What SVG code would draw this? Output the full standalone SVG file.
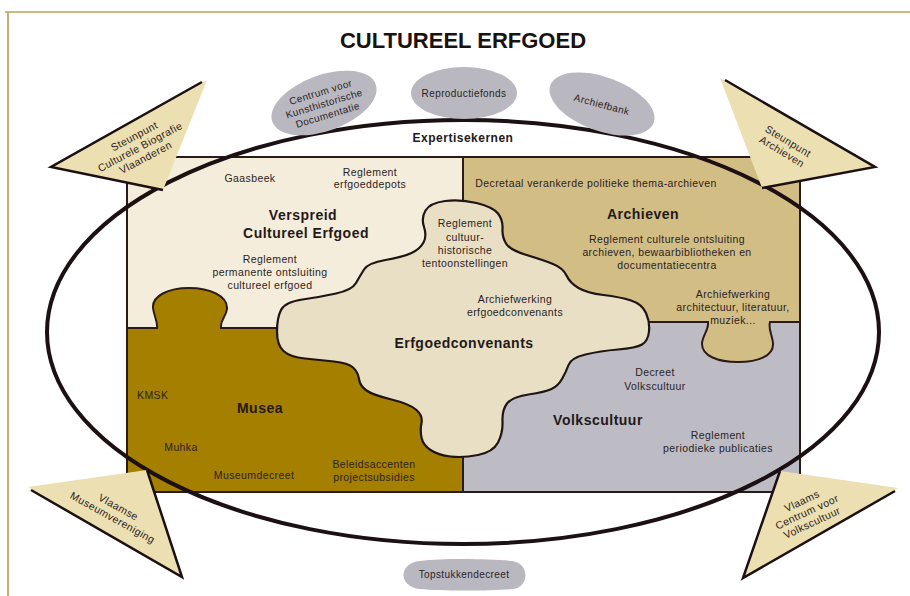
<svg xmlns="http://www.w3.org/2000/svg" width="910" height="596" viewBox="0 0 910 596">
<style>
.t{font-family:"Liberation Sans",Arial,sans-serif;font-size:10.5px;letter-spacing:0.4px;fill:#2b2222;text-anchor:middle}
.s{font-size:10px}
.b{font-weight:bold;font-size:14px;letter-spacing:0.5px;fill:#231919}
.tri{fill:#ecdfb1;stroke:none}
.triedge{fill:none;stroke:#1c1012;stroke-width:2.5;stroke-linejoin:miter}
.oval{fill:#b9b8c1;stroke:none}
.sep{fill:none;stroke:#2a1a1a;stroke-width:2}
</style>
<rect width="910" height="596" fill="#ffffff"/>
<g id="frame">
<path d="M5 12 H910 M8 12 V596" fill="none" stroke="#bfa456" stroke-width="1.7"/>
</g>
<text id="title" x="463" y="48" class="t" style="font-size:22px;font-weight:bold;letter-spacing:0;fill:#1a1111">CULTUREEL ERFGOED</text>

<g id="verspreid">
<rect x="127" y="157" width="336" height="171" fill="#f5eddb"/>
<text class="t" x="250" y="182">Gaasbeek</text>
<text class="t" x="370" y="176">Reglement</text>
<text class="t" x="370" y="188">erfgoeddepots</text>
<text class="t b" x="303" y="220">Verspreid</text>
<text class="t b" x="306" y="238">Cultureel Erfgoed</text>
<text class="t" x="270" y="263">Reglement</text>
<text class="t" x="270" y="276">permanente ontsluiting</text>
<text class="t" x="270" y="289">cultureel erfgoed</text>
</g>
<g id="archieven">
<rect x="463" y="157" width="337" height="165" fill="#d2bd85"/>
<path d="M708 322 C709 330 702 336 702 344 C702 356 718 362 738 362 C758 362 774 356 773 343 C772 334 768 329 770 322 Z" fill="#d2bd85"/>
</g>
<g id="musea">
<rect x="127" y="328" width="336" height="164" fill="#a57f00"/>
<path d="M157 328 C158 322 154 316 153 308 C152 296 168 288 189 288 C210 288 228 296 227 309 C226 317 220 320 221 328 Z" fill="#a57f00"/>
</g>
<g id="volkscultuur">
<rect x="463" y="322" width="337" height="170" fill="#bdbcc5"/>
<path d="M708 322 C709 330 702 336 702 344 C702 356 718 362 738 362 C758 362 774 356 773 343 C772 334 768 329 770 322 Z" fill="#d2bd85"/>
</g>
<g id="region-borders">
<path class="sep" d="M463 157 V492"/>
<path class="sep" d="M127 328 L157 328 C158 322 154 316 153 308 C152 296 168 288 189 288 C210 288 228 296 227 309 C226 317 220 320 221 328 L470 328"/>
<path class="sep" d="M455 322 L708 322 C709 330 702 336 702 344 C702 356 718 362 738 362 C758 362 774 356 773 343 C772 334 768 329 770 322 L800 322"/>
</g>
<g id="erfgoedconvenants">
<path d="M445 201 Q460 199 476.5 203 Q493 207 498 213.5 Q503 220 502.5 228.5 Q502 237 506 243.5 Q510 250 526.5 255 Q543 260 553 264 Q563 268 566.5 275.5 Q570 283 578.5 288 Q587 293 603.5 295 Q620 297 631 300.5 Q642 304 646 313 Q650 322 649 331.5 Q648 341 642 344.5 Q636 348 618 349.5 Q600 351 585.5 354.5 Q571 358 568.5 365 Q566 372 562 379 Q558 386 551.5 389 Q545 392 528.5 394.5 Q512 397 507 403.5 Q502 410 502.5 421.5 Q503 433 498 442.5 Q493 452 478 455 Q463 458 450.5 456.5 Q438 455 430.5 450 Q423 445 421.5 437.5 Q420 430 421.5 423 Q423 416 416.5 410 Q410 404 391.5 399.5 Q373 395 366.5 390.5 Q360 386 359 379 Q358 372 353 367.5 Q348 363 334 361.5 Q320 360 305 358.5 Q290 357 283.5 351 Q277 345 277 331.5 Q277 318 281 310 Q285 302 302.5 299.5 Q320 297 336 293.5 Q352 290 356 283 Q360 276 364 269.5 Q368 263 385.5 260 Q403 257 411.5 253 Q420 249 423.5 242.5 Q427 236 424 227 Q421 218 425.5 210.5 Q430 203 445 201 Z" fill="#e9dfc4" stroke="#1f1415" stroke-width="2.2"/>
<text class="t" x="465" y="227">Reglement</text>
<text class="t" x="465" y="241">cultuur-</text>
<text class="t" x="465" y="254">historische</text>
<text class="t" x="465" y="267">tentoonstellingen</text>
<text class="t" x="515" y="303">Archiefwerking</text>
<text class="t" x="515" y="316">erfgoedconvenants</text>
<text class="t b" x="464" y="348">Erfgoedconvenants</text>
</g>
<g id="labels">
<text class="t" x="596" y="187">Decretaal verankerde politieke thema-archieven</text>
<text class="t b" x="643" y="219">Archieven</text>
<text class="t" x="667" y="243">Reglement culturele ontsluiting</text>
<text class="t" x="667" y="256">archieven, bewaarbibliotheken en</text>
<text class="t" x="667" y="269">documentatiecentra</text>
<text class="t" x="733" y="298">Archiefwerking</text>
<text class="t" x="733" y="311">architectuur, literatuur,</text>
<text class="t" x="733" y="324">muziek...</text>
<text class="t" x="137" y="399" style="text-anchor:start">KMSK</text>
<text class="t" x="181" y="451">Muhka</text>
<text class="t b" x="260" y="413">Musea</text>
<text class="t" x="254" y="479">Museumdecreet</text>
<text class="t" x="374" y="468">Beleidsaccenten</text>
<text class="t" x="374" y="481">projectsubsidies</text>
<text class="t" x="655" y="376">Decreet</text>
<text class="t" x="655" y="390">Volkscultuur</text>
<text class="t b" x="598" y="425">Volkscultuur</text>
<text class="t" x="718" y="439">Reglement</text>
<text class="t" x="718" y="452">periodieke publicaties</text>
</g>
<rect x="127" y="157" width="673" height="335" fill="none" stroke="#2a1a1a" stroke-width="2"/>

<g id="connectors">
<ellipse id="boundary" cx="463" cy="332" rx="416" ry="212" fill="none" stroke="#1c1012" stroke-width="4"/>
</g>
<text class="t b" x="463" y="142" style="font-size:12px">Expertisekernen</text>

<g id="ckd">
<ellipse class="oval" cx="324" cy="103" rx="55" ry="28" transform="rotate(-20 324 103)"/>
<g transform="rotate(-17 324 103)">
<text class="t s" x="324" y="95">Centrum voor</text>
<text class="t s" x="324" y="107">Kunsthistorische</text>
<text class="t s" x="324" y="119">Documentatie</text>
</g>
</g>
<g id="reproductiefonds">
<ellipse class="oval" cx="464" cy="93" rx="53" ry="26"/>
<text class="t s" x="464" y="97">Reproductiefonds</text>
</g>
<g id="archiefbank">
<ellipse class="oval" cx="602" cy="104" rx="55" ry="27" transform="rotate(20 602 104)"/>
<text class="t s" x="602" y="108" transform="rotate(15 602 104)">Archiefbank</text>
</g>
<g id="topstukkendecreet">
<path class="oval" d="M420 561 C445 558 490 559 512 561 C530 563 530 588 512 589 C490 591 440 591 420 589 C398 587 398 563 420 561 Z"/>
<text class="t s" x="464" y="578">Topstukkendecreet</text>
</g>

<g id="scvb">
<polygon class="tri" points="207,80 51,167 163,190"/>
<polyline class="triedge" points="202,82 51,167 163,190"/>
<g transform="translate(140 147) rotate(-28)">
<text class="t" x="0" y="-8.5">Steunpunt</text>
<text class="t" x="0" y="3.5">Culturele Biografie</text>
<text class="t" x="0" y="15.5">Vlaanderen</text>
</g>
</g>
<g id="sa">
<polygon class="tri" points="720,78 875,167 762,188"/>
<polyline class="triedge" points="725,80 875,167 762,188"/>
<g transform="translate(785 146.5) rotate(31)">
<text class="t" x="0" y="-2.5">Steunpunt</text>
<text class="t" x="0" y="9.5">Archieven</text>
</g>
</g>
<g id="vmv">
<polygon class="tri" points="28,487 147,470 182,577"/>
<polyline class="triedge" points="31,490 182,577 147,470"/>
<g transform="translate(115.5 512.5) rotate(29)">
<text class="t" x="0" y="-2.5">Vlaamse</text>
<text class="t" x="0" y="9.5">Museumvereniging</text>
</g>
</g>
<g id="vcv">
<polygon class="tri" points="780,471 898,488 743,578"/>
<polyline class="triedge" points="780,471 743,578 895,491"/>
<g transform="translate(807 512) rotate(-25)">
<text class="t" x="0" y="-8.5">Vlaams</text>
<text class="t" x="0" y="3.5">Centrum voor</text>
<text class="t" x="0" y="15.5">Volkscultuur</text>
</g>
</g>
</svg>
